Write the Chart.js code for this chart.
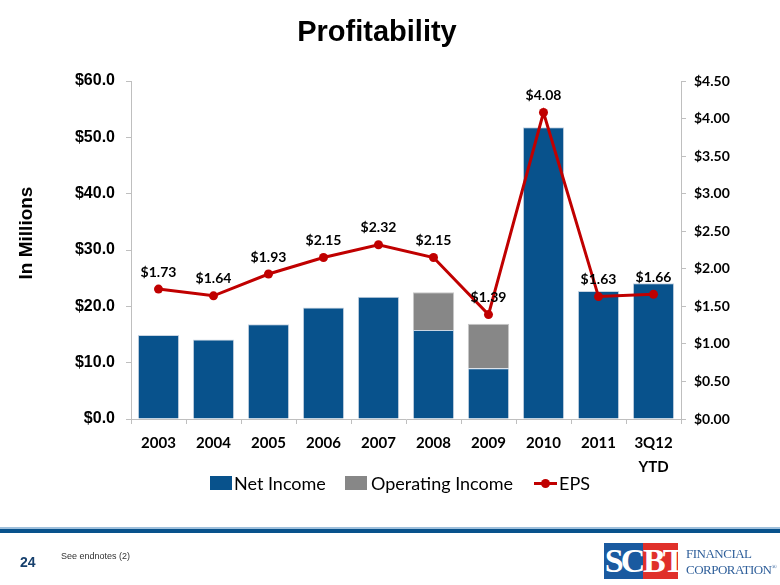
<!DOCTYPE html>
<html>
<head>
<meta charset="utf-8">
<script src="https://cdn.jsdelivr.net/npm/chart.js@4.4.1/dist/chart.umd.min.js"></script>
<style>
  body { margin: 0; background: #fff; }
  .slide { position: relative; width: 780px; height: 585px; overflow: hidden; background: #fff; }
  #chartBox { position: absolute; left: 0; top: 0; width: 780px; height: 585px; }
  .title { position: absolute; left: 0; width: 754px; top: 15px; text-align: center;
    font: bold 29px "Liberation Sans", Arial, sans-serif; color: #000; }
  .yTitle { position: absolute; left: 26px; top: 233px; transform: translate(-50%, -50%) rotate(-90deg);
    font: bold 19px "Liberation Sans", Arial, sans-serif; color: #000; white-space: nowrap; }
  .legend { position: absolute; top: 472px; left: 0; font: 18px Lato, sans-serif; color: #000; }
  .legend span { position: absolute; white-space: nowrap; }
  .sw { width: 22px; height: 14px; top: 4px; }
  .footLine { position: absolute; left: 0; width: 780px; top: 527px; height: 2px; background: #9fc0dc; }
  .footLine2 { position: absolute; left: 0; width: 780px; top: 529px; height: 4px; background: #08528c; }
  .pageNo { position: absolute; left: 20px; top: 554px; font: bold 14px "Liberation Sans", Arial, sans-serif; color: #17406d; }
  .note { position: absolute; left: 61px; top: 551px; font: 9px "Liberation Sans", Arial, sans-serif; color: #333; }
  .logoBlock { position: absolute; top: 543px; height: 36px; color: #fff; text-align: center;
    font: bold 34px/36px "Liberation Serif", serif; letter-spacing: -3px; overflow: hidden; }
  .logoText { position: absolute; left: 686px; font: 13px "Liberation Serif", serif; color: #2f5f9a; letter-spacing: -0.5px; }
</style>
</head>
<body>
<div class="slide">
  <div id="chartBox"><canvas id="profitChart" width="780" height="585"></canvas></div>
  <div class="title">Profitability</div>
  <div class="yTitle">In Millions</div>
  <div class="legend">
    <span class="sw" style="left:210px;background:#08528c"></span>
    <span style="left:234px">Net Income</span>
    <span class="sw" style="left:345px;background:#878787"></span>
    <span style="left:371px">Operating Income</span>
    <span style="left:534px;top:10px;width:23px;height:3px;background:#c00000"></span>
    <span style="left:541px;top:7px;width:9px;height:9px;border-radius:50%;background:#c00000"></span>
    <span style="left:559px">EPS</span>
  </div>
  <div class="footLine"></div>
  <div class="footLine2"></div>
  <div class="pageNo">24</div>
  <div class="note">See endnotes (2)</div>
  <div class="logoBlock" style="left:604px;width:39px;background:#1a5aa0">SC</div>
  <div class="logoBlock" style="left:643px;width:35px;background:#e0302a">BT</div>
  <div class="logoText" style="top:546px">FINANCIAL</div>
  <div class="logoText" style="top:562px">CORPORATION<sup style="font-size:7px">®</sup></div>
</div>
<script>
const years = ['2003', '2004', '2005', '2006', '2007', '2008', '2009', '2010', '2011', ['3Q12', 'YTD']];
const netIncome = [14.9, 14.1, 16.8, 19.8, 21.7, 15.8, 9.0, 51.8, 22.7, 24.1];
const operatingIncome = [null, null, null, null, null, 22.5, 16.9, null, null, null];
const eps = [1.73, 1.64, 1.93, 2.15, 2.32, 2.15, 1.39, 4.08, 1.63, 1.66];

const blue = '#08528c';
const gray = '#878787';
const red = '#c00000';
const axisColor = '#bfbfbf';

// gray part sits on top of net income, so only the difference is stacked
const opExtra = operatingIncome.map((v, i) => v == null ? null : +(v - netIncome[i]).toFixed(1));

const epsLabels = {
  id: 'epsLabels',
  afterDatasetsDraw(chart) {
    const meta = chart.getDatasetMeta(0);
    const ctx = chart.ctx;
    ctx.save();
    ctx.font = 'bold 14px Lato';
    ctx.fillStyle = '#000';
    ctx.textAlign = 'center';
    ctx.textBaseline = 'middle';
    meta.data.forEach((pt, i) => {
      ctx.fillText('$' + eps[i].toFixed(2), pt.x, pt.y - 17);
    });
    ctx.restore();
  }
};

new Chart(document.getElementById('profitChart').getContext('2d'), {
  type: 'bar',
  data: {
    labels: years,
    datasets: [
      {
        type: 'line',
        label: 'EPS',
        data: eps,
        yAxisID: 'y1',
        borderColor: red,
        backgroundColor: red,
        borderWidth: 3,
        pointRadius: 4.5,
        pointBackgroundColor: red,
        pointBorderWidth: 0,
        tension: 0,
        order: 0
      },
      {
        label: 'Net Income',
        data: netIncome,
        yAxisID: 'y',
        backgroundColor: blue,
        borderColor: '#c9d5e2',
        borderWidth: 1,
        barPercentage: 0.75,
        categoryPercentage: 1,
        stack: 'income',
        order: 1
      },
      {
        label: 'Operating Income',
        data: opExtra,
        yAxisID: 'y',
        backgroundColor: gray,
        borderColor: '#c9c9c9',
        borderWidth: 1,
        barPercentage: 0.75,
        categoryPercentage: 1,
        stack: 'income',
        order: 1
      }
    ]
  },
  options: {
    responsive: false,
    animation: false,
    layout: { padding: { top: 81, left: 0, right: 0, bottom: 0 } },
    plugins: {
      legend: { display: false },
      tooltip: { enabled: false }
    },
    scales: {
      x: {
        stacked: true,
        offset: true,
        border: { color: axisColor },
        grid: { drawOnChartArea: false, offset: true, tickLength: 5, color: axisColor },
        ticks: { color: '#000', padding: 7, font: { family: 'Lato', weight: 'bold', size: 15, lineHeight: 1.6 } },
        afterFit: s => { s.height = 166; }
      },
      y: {
        stacked: true,
        min: 0,
        max: 60,
        border: { color: axisColor },
        grid: { drawOnChartArea: false, tickLength: 5, color: axisColor },
        ticks: {
          stepSize: 10,
          color: '#000',
          padding: 11,
          font: { family: 'Liberation Sans', weight: 'bold', size: 16 },
          callback: v => '$' + v.toFixed(1)
        },
        afterFit: s => { s.width = 131; }
      },
      y1: {
        position: 'right',
        min: 0,
        max: 4.5,
        border: { color: axisColor },
        grid: { drawOnChartArea: false, tickLength: 5, color: axisColor },
        ticks: {
          stepSize: 0.5,
          color: '#000',
          padding: 8,
          font: { family: 'Lato', weight: 'bold', size: 14 },
          callback: v => '$' + v.toFixed(2)
        },
        afterFit: s => { s.width = 99; }
      }
    }
  },
  plugins: [epsLabels]
});
</script>
</body>
</html>
